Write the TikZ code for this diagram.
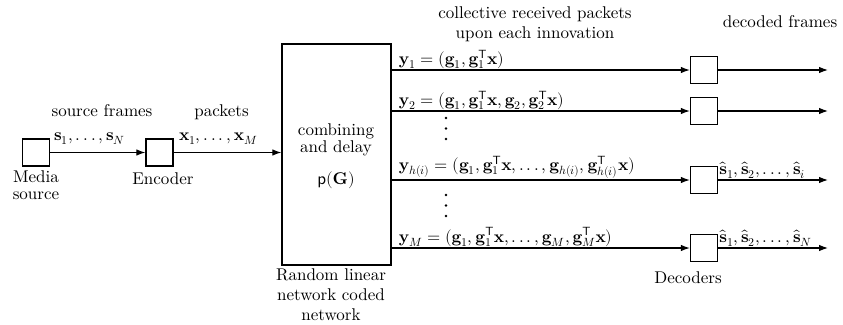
\documentclass[tikz,border=0pt]{standalone}
\usepackage{amsmath}
\usepackage{unicode-math}
\setmainfont{lmroman10-regular.otf}[
  BoldFont=lmroman10-bold.otf,
  ItalicFont=lmroman10-italic.otf,
  BoldItalicFont=lmroman10-bolditalic.otf]
\setsansfont{lmsans10-regular.otf}
\setmathfont{latinmodern-math.otf}
\usetikzlibrary{arrows.meta}

% widely spaced low ellipsis
\newcommand{\lowdots}{\mathinner{\mathpunct{.}\mathpunct{.}\mathpunct{.}}}

\tikzset{
  blk/.style={draw, line width=1.3pt, minimum width=27pt, minimum height=27pt, inner sep=0pt},
  netbox/.style={draw, line width=1.3pt, minimum width=109pt, minimum height=221pt, inner sep=0pt},
  arr/.style={-{Latex[length=9pt,width=6.5pt]}, line width=1.1pt},
  lbl/.style={inner sep=0pt},
  eqlbl/.style={anchor=south west, inner sep=1pt},
}

\begin{document}
\begin{tikzpicture}[x=1pt, y=-1pt, font=\fontsize{17}{20}\selectfont]
\useasboundingbox (0,0) rectangle (843,324);

% source side
\node[blk] (media) at (36,152.5) {};
\node[blk] (enc) at (159.5,152.5) {};
\node[netbox] (net) at (336.5,154.5) {};

\draw[arr] (media.east) -- (enc.west);
\draw[arr] (enc.east) -- (net.west |- enc.east);

\node[lbl, anchor=base] (srcfr) at (102,116) {source frames};
\node[lbl, anchor=base] (pkts) at (221.5,116) {packets};
\node[lbl, anchor=base west] (slist) at (54,140.5) {$\mathbf{s}_1,\lowdots,\mathbf{s}_N$};
\node[lbl, anchor=base west] (xlist) at (179,140.5) {$\mathbf{x}_1,\lowdots,\mathbf{x}_M$};

\node[lbl, anchor=north, align=center, font=\fontsize{17}{16.6}\selectfont] (medialbl) at (36,170.5) {Media\\source};
\node[lbl, anchor=base] (enclbl) at (163,184.3) {Encoder};

% network box contents
\node[lbl, anchor=north, align=center, font=\fontsize{17}{17}\selectfont] (comb) at (336,123.5) {combining\\and delay};
\node[lbl, anchor=base] (pG) at (336,184) {$\mathsf{p}(\mathbf{G})$};
\node[lbl, anchor=north, align=center, font=\fontsize{17}{20.3}\selectfont] (netlbl) at (331,268) {Random linear\\network coded\\network};

% decoders
\node[blk] (d1) at (704,70) {};
\node[blk] (d2) at (704,111) {};
\node[blk] (d3) at (704,180) {};
\node[blk] (d4) at (704,248) {};
\coordinate (rend) at (828,0);

\foreach \d in {d1,d2,d3,d4} {
  \draw[arr] (net.east |- \d.west) -- (\d.west);
  \draw[arr] (\d.east) -- (\d.east -| rend);
}

\node[eqlbl] (y1) at ([xshift=6pt]net.east |- d1.west) {$\mathbf{y}_1=(\mathbf{g}_1,\mathbf{g}_1^{\mathsf{T}}\mathbf{x})$};
\node[eqlbl] (y2) at ([xshift=6pt]net.east |- d2.west) {$\mathbf{y}_2=(\mathbf{g}_1,\mathbf{g}_1^{\mathsf{T}}\mathbf{x},\mathbf{g}_2,\mathbf{g}_2^{\mathsf{T}}\mathbf{x})$};
\node[eqlbl] (yh) at ([xshift=6pt]net.east |- d3.west) {$\mathbf{y}_{h(i)}=(\mathbf{g}_1,\mathbf{g}_1^{\mathsf{T}}\mathbf{x},\lowdots,\mathbf{g}_{h(i)},\mathbf{g}_{h(i)}^{\mathsf{T}}\mathbf{x})$};
\node[eqlbl] (yM) at ([xshift=6pt]net.east |- d4.west) {$\mathbf{y}_M=(\mathbf{g}_1,\mathbf{g}_1^{\mathsf{T}}\mathbf{x},\lowdots,\mathbf{g}_M,\mathbf{g}_M^{\mathsf{T}}\mathbf{x})$};

% vertical ellipses between the packet lines
\foreach \yy in {118,128.5,139,195,205.5,216}
  \fill (446,\yy) circle[radius=1.3pt];

\node[eqlbl] (shi) at (d3.east) {$\hat{\mathbf{s}}_1,\hat{\mathbf{s}}_2,\lowdots,\hat{\mathbf{s}}_i$};
\node[eqlbl] (shN) at (d4.east) {$\hat{\mathbf{s}}_1,\hat{\mathbf{s}}_2,\lowdots,\hat{\mathbf{s}}_N$};

\node[lbl, anchor=base] (declbl) at (688,283.2) {Decoders};

% headings
\node[lbl, anchor=north, align=center, font=\fontsize{17}{20.4}\selectfont] (coll) at (535,6.2) {collective received packets\\upon each innovation};
\node[lbl, anchor=base] (decfr) at (780,27.8) {decoded frames};
\end{tikzpicture}
\end{document}
